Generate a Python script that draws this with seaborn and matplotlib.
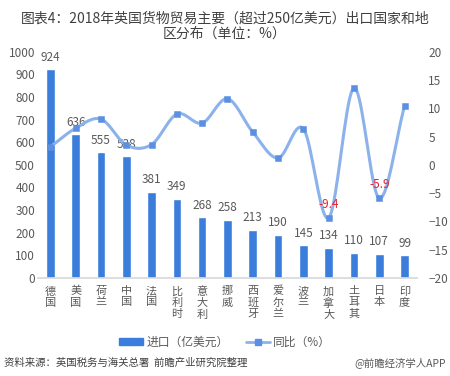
import numpy as np
import matplotlib
matplotlib.use("Agg")
import matplotlib.pyplot as plt
import seaborn as sns
from matplotlib.patches import Patch
from matplotlib.lines import Line2D

countries = ['德国', '美国', '荷兰', '中国', '法国', '比利时', '意大利', '挪威',
             '西班牙', '爱尔兰', '波兰', '加拿大', '土耳其', '日本', '印度']
exports = [924, 636, 555, 538, 381, 349, 268, 258, 213, 190, 145, 134, 110, 107, 99]
growth = [3.2, 6.5, 8.1, 3.5, 3.6, 9.0, 7.4, 11.7, 5.8, 1.2, 6.4, -9.4, 13.6, -5.9, 10.4]
red_labels = {'加拿大': '-9.4', '日本': '-5.9'}

left_ticks = [0, 100, 200, 300, 400, 500, 600, 700, 800, 900, 1000]
right_ticks = [-20, -15, -10, -5, 0, 5, 10, 15, 20]

BAR_C = '#3a7ddb'
LINE_C = '#8cb2ec'
MARK_C = '#5a8fe2'
TXT_C = '#595959'

sns.set_theme(style='white')
plt.rcParams['font.family'] = ['Noto Sans CJK SC', 'DejaVu Sans']


def smooth(xs, ys, n=20):
    # catmull-rom curve just for drawing, markers stay on the data
    xs = np.asarray(xs, float)
    ys = np.asarray(ys, float)
    px = np.concatenate([[2*xs[0]-xs[1]], xs, [2*xs[-1]-xs[-2]]])
    py = np.concatenate([[2*ys[0]-ys[1]], ys, [2*ys[-1]-ys[-2]]])
    outx, outy = [], []
    t = np.linspace(0, 1, n)
    for i in range(1, len(px)-2):
        for arr, out in ((px, outx), (py, outy)):
            p0, p1, p2, p3 = arr[i-1], arr[i], arr[i+1], arr[i+2]
            out.extend(0.5*((2*p1) + (-p0+p2)*t + (2*p0-5*p1+4*p2-p3)*t**2
                            + (-p0+3*p1-3*p2+p3)*t**3))
    return outx, outy


fig = plt.figure(figsize=(4.5, 3.76), dpi=100)
ax = fig.add_axes([0.084, 0.261, 0.843, 0.601])

xlabels = ['\n'.join(c) for c in countries]
sns.barplot(x=xlabels, y=exports, color=BAR_C, saturation=1, width=0.34, ax=ax)
ax.set_xlim(-0.5, len(countries)-0.5)
ax.set_ylim(0, 1000)
ax.set_yticks(left_ticks)
ax.tick_params(axis='y', labelsize=8.5, colors=TXT_C, length=0, pad=2)
ax.tick_params(axis='x', labelsize=8, colors=TXT_C, length=0, pad=6)
for lab in ax.get_xticklabels():
    lab.set_linespacing(1.15)
for s in ['top', 'left', 'right']:
    ax.spines[s].set_visible(False)
ax.spines['bottom'].set_color('#d9d9d9')

for i, v in enumerate(exports):
    ax.annotate(str(v), (i, v), xytext=(0, 4), textcoords='offset points',
                ha='center', va='bottom', fontsize=8.5, color=TXT_C)

ax2 = ax.twinx()
pos = np.arange(len(countries))
sx, sy = smooth(pos, growth)
ax2.plot(sx, sy, color=LINE_C, lw=2.2, zorder=3)
sns.scatterplot(x=pos, y=growth, marker='s', s=22, color=MARK_C,
                edgecolor=MARK_C, ax=ax2, zorder=4)
ax2.set_ylim(-20, 20)
ax2.set_yticks(right_ticks)
ax2.tick_params(axis='y', labelsize=8.5, colors=TXT_C, length=0, pad=8)
for s in ['top', 'left', 'right', 'bottom']:
    ax2.spines[s].set_visible(False)

for i, c in enumerate(countries):
    if c in red_labels:
        ax2.annotate(red_labels[c], (i, growth[i]), xytext=(0, 5),
                     textcoords='offset points', ha='center', va='bottom',
                     fontsize=8.5, color='#e8202a')

fig.text(0.5, 0.968, '图表4：2018年英国货物贸易主要（超过250亿美元）出口国家和地\n区分布（单位：%）',
         ha='center', va='top', fontsize=10, color='#404040', linespacing=1.1)

handles = [Patch(color=BAR_C, label='进口（亿美元）'),
           Line2D([0], [0], color=LINE_C, lw=2, marker='s', markersize=4,
                  markerfacecolor=MARK_C, markeredgecolor=MARK_C, label='同比（%）')]
fig.legend(handles=handles, loc='center', bbox_to_anchor=(0.5, 0.09), ncol=2,
           frameon=False, fontsize=8.5, handlelength=2.0, handleheight=0.6,
           handletextpad=0.3, columnspacing=1.5, labelcolor=TXT_C)

fig.text(0.01, 0.035, '资料来源：英国税务与海关总署  前瞻产业研究院整理', ha='left', va='center',
         fontsize=7.5, style='italic', color='#404040')
fig.text(0.99, 0.035, '@前瞻经济学人APP', ha='right', va='center', fontsize=7.5,
         color='#595959')

fig.savefig('out.png', dpi=100)
